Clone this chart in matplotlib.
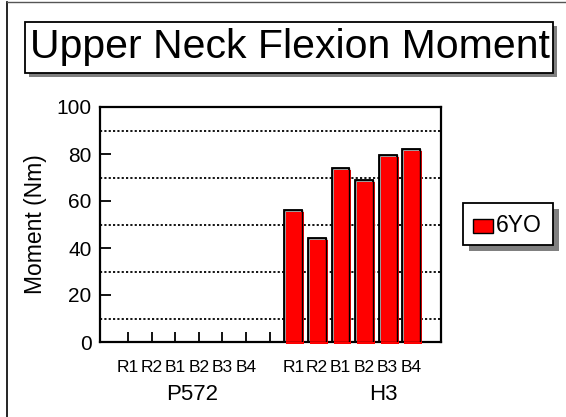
import matplotlib
matplotlib.use("Agg")
import matplotlib.pyplot as plt
import matplotlib.transforms as mtransforms
from matplotlib.patches import Rectangle
from matplotlib.lines import Line2D

plt.rcParams['font.family'] = ['Liberation Sans', 'DejaVu Sans']

# Data
sub_labels = ["R1", "R2", "B1", "B2", "B3", "B4", "", "R1", "R2", "B1", "B2", "B3", "B4"]
group_labels = ["P572", "H3"]
group_pos = [2.7, 10.8]
h3_positions = [7, 8, 9, 10, 11, 12]
h3_values = [56.3, 44.1, 74.0, 68.8, 79.4, 82.3]
series_name = "6YO"

W, H = 566, 417
fig = plt.figure(figsize=(W / 100, H / 100), dpi=100)

# figure frame (left + top)
fig.add_artist(Line2D([7 / W, 7 / W], [0, 1 - 2 / H], color="black", lw=1.2))
fig.add_artist(Line2D([7 / W, 1], [1 - 2 / H, 1 - 2 / H], color="#555555", lw=1.0))

ax = fig.add_axes([100 / W, 1 - 342 / H, 341 / W, 235 / H])

# dotted gridlines
for g in [10, 30, 50, 70, 90]:
    ax.axhline(g, color="black", lw=1.3, ls=(0, (1.2, 1.2)), zorder=1)

# bars: gray/black outline behind, red fill offset down-right
ax.bar(h3_positions, h3_values, width=0.75, facecolor="#c0c0c0",
       edgecolor="black", linewidth=1.3, zorder=2)
shift = mtransforms.offset_copy(ax.transData, fig=fig, x=2, y=-2, units="dots")
ax.bar(h3_positions, h3_values, width=0.75, facecolor="#ff0000",
       edgecolor="none", zorder=3, transform=shift, clip_on=False)
ax.bar(h3_positions, h3_values, width=0.75, facecolor="none",
       edgecolor="black", linewidth=1.0, zorder=4)

ax.set_xlim(-1.19, 13.26)
ax.set_ylim(0, 100)
ax.set_yticks([0, 20, 40, 60, 80, 100])
ax.set_xticks(range(len(sub_labels)))
ax.set_xticklabels(sub_labels, fontsize=12.5)
ax.tick_params(axis="x", direction="in", length=7, width=1.3, pad=13)
ax.tick_params(axis="y", direction="in", length=8, width=1.3, labelsize=15, pad=6)
for s in ax.spines.values():
    s.set_linewidth(1.6)

ax.set_ylabel("Moment (Nm)", fontsize=16.5, labelpad=7)

for lab, p in zip(group_labels, group_pos):
    ax.text(p, -0.2255, lab, transform=ax.get_xaxis_transform(), ha="center",
            va="center", fontsize=16)

# title box with shadow
fig.add_artist(Rectangle((29 / W, 1 - 77 / H), 528 / W, 51 / H,
                         facecolor="#808080", edgecolor="none"))
fig.add_artist(Rectangle((25 / W, 1 - 73 / H), 528 / W, 51 / H,
                         facecolor="white", edgecolor="black", lw=1.3))
fig.text(290 / W, 1 - 47 / H, "Upper Neck Flexion Moment", ha="center",
         va="center", fontsize=29.5)

# legend box with shadow
fig.add_artist(Rectangle((469 / W, 1 - 251 / H), 90 / W, 42 / H,
                         facecolor="#808080", edgecolor="none"))
fig.add_artist(Rectangle((463 / W, 1 - 245 / H), 90 / W, 42 / H,
                         facecolor="white", edgecolor="black", lw=1.3))
fig.add_artist(Rectangle((473 / W, 1 - 233 / H), 20 / W, 14 / H,
                         facecolor="#ff0000", edgecolor="black", lw=1.0))
fig.text(496 / W, 1 - 226 / H, series_name, ha="left", va="center", fontsize=16.5)

fig.savefig("out.png", dpi=100)
